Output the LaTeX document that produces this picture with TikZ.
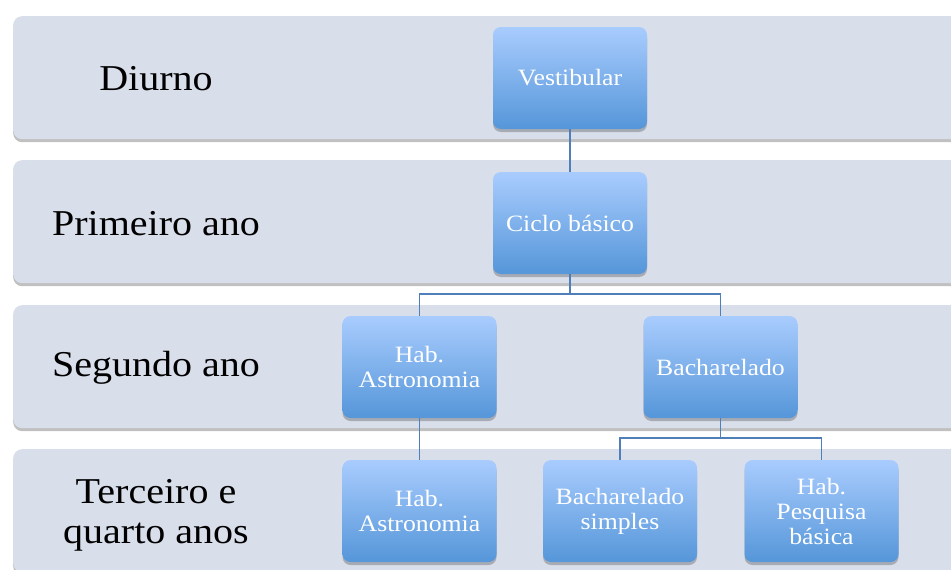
\documentclass[tikz,border=0pt]{standalone}
\usepackage{fontspec}
\setmainfont[FakeStretch=1.1]{Liberation Serif}
\usetikzlibrary{shadows}
\definecolor{bandc}{HTML}{D9DEEB}
\definecolor{btop}{HTML}{A9CCFE}
\definecolor{bbot}{HTML}{5596D9}
\definecolor{linec}{HTML}{4F7FB8}
\begin{document}
\begin{tikzpicture}[x=1pt,y=-1pt,
  band/.style={fill=bandc, rounded corners=9pt, minimum width=955pt, minimum height=123pt,
    anchor=north west, inner sep=0pt,
    drop shadow={shadow xshift=0pt, shadow yshift=-3pt, opacity=0.35, fill=black!70}},
  box/.style={rounded corners=8pt, minimum width=154pt, minimum height=102pt,
    top color=btop, bottom color=bbot, text=white, align=center, inner sep=0pt,
    font=\fontsize{23.4}{25}\selectfont,
    drop shadow={shadow xshift=0pt, shadow yshift=-3pt, opacity=0.35, fill=black!70}},
  lab/.style={font=\fontsize{36.4}{40}\selectfont, align=center, text=black},
  conn/.style={draw=linec, line width=1.8pt}
]
\useasboundingbox (0,0) rectangle (951,570);
\fill[white] (0,0) rectangle (951,570);
\clip (0,0) rectangle (951,570);

\node[band] (r1) at (13,16) {};
\node[band] (r2) at (13,160) {};
\node[band] (r3) at (13,305) {};
\node[band] (r4) at (13,449) {};

\node[lab] (l1) at (156,79) {Diurno};
\node[lab] (l2) at (156,224) {Primeiro ano};
\node[lab] (l3) at (156,368) {Segundo ano};
\node[lab] (l4) at (156,515) {Terceiro e\\quarto anos};

\node[box] (v) at (570,78) {Vestibular};
\node[box] (c) at (570,223) {Ciclo básico};
\node[box] (a1) at (419.5,367) {Hab.\\Astronomia};
\node[box] (b1) at (720.5,367) {Bacharelado};
\node[box] (a2) at (419.5,511) {Hab.\\Astronomia};
\node[box] (b2) at (620,511) {Bacharelado\\simples};
\node[box] (p2) at (821.5,511) {Hab.\\Pesquisa\\básica};

\draw[conn] (v.south) -- (c.north);
\draw[conn] (c.south) -- ++(0,20) -| (a1.north);
\draw[conn] (c.south) -- ++(0,20) -| (b1.north);
\draw[conn] (a1.south) -- (a2.north);
\draw[conn] (b1.south) -- ++(0,20) -| (b2.north);
\draw[conn] (b1.south) -- ++(0,20) -| (p2.north);
\end{tikzpicture}
\end{document}
